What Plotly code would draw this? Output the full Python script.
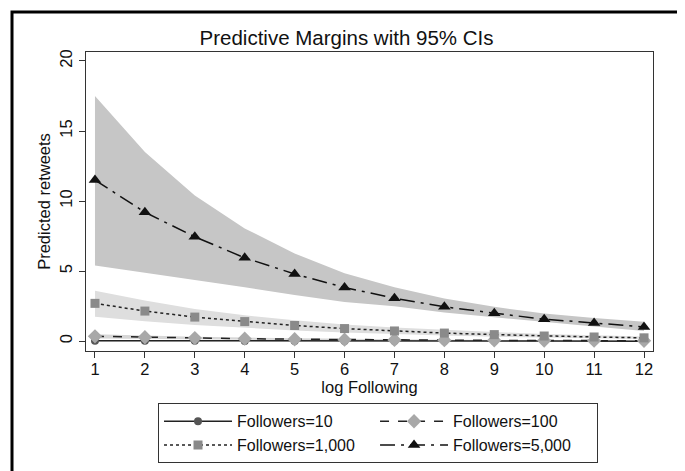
import plotly.graph_objects as go

x = [1, 2, 3, 4, 5, 6, 7, 8, 9, 10, 11, 12]

f10 = [0.04, 0.03, 0.025, 0.02, 0.016, 0.013, 0.01, 0.008, 0.007, 0.006, 0.005, 0.004]
f10_lo = [0.0, 0.0, 0.0, 0.0, 0.0, 0.0, 0.0, 0.0, 0.0, 0.0, 0.0, 0.0]
f10_hi = [0.09, 0.07, 0.055, 0.045, 0.035, 0.03, 0.025, 0.02, 0.016, 0.013, 0.011, 0.009]

f100 = [0.35, 0.28, 0.22, 0.18, 0.14, 0.11, 0.09, 0.07, 0.06, 0.05, 0.04, 0.03]
f100_lo = [0.2, 0.16, 0.13, 0.1, 0.08, 0.065, 0.05, 0.04, 0.033, 0.027, 0.022, 0.018]
f100_hi = [0.5, 0.4, 0.32, 0.26, 0.2, 0.16, 0.13, 0.1, 0.085, 0.07, 0.058, 0.045]

f1000 = [2.7, 2.15, 1.72, 1.4, 1.12, 0.9, 0.73, 0.58, 0.47, 0.37, 0.3, 0.24]
f1000_lo = [1.75, 1.42, 1.15, 0.95, 0.77, 0.62, 0.5, 0.4, 0.32, 0.25, 0.2, 0.15]
f1000_hi = [3.6, 2.9, 2.3, 1.85, 1.5, 1.2, 0.98, 0.8, 0.65, 0.52, 0.42, 0.34]

f5000 = [11.5, 9.2, 7.45, 5.95, 4.8, 3.83, 3.07, 2.45, 2.0, 1.57, 1.3, 1.02]
f5000_lo = [5.4, 4.9, 4.4, 3.85, 3.3, 2.8, 2.5, 2.05, 1.7, 1.35, 1.05, 0.72]
f5000_hi = [17.5, 13.5, 10.4, 8.05, 6.26, 4.85, 3.85, 3.05, 2.45, 1.98, 1.65, 1.38]

y_ticks = [0, 5, 10, 15, 20]

FONT = "Liberation Sans, Arial, sans-serif"

fig = go.Figure()

bands = [
    (f5000_lo, f5000_hi, "#c6c6c6"),
    (f1000_lo, f1000_hi, "#dedede"),
    (f100_lo, f100_hi, "#d6d6d6"),
    (f10_lo, f10_hi, "#bdbdbd"),
]
for lo, hi, col in bands:
    fig.add_trace(go.Scatter(x=x, y=hi, mode="lines", line=dict(width=0, color=col),
                             showlegend=False, hoverinfo="skip"))
    fig.add_trace(go.Scatter(x=x, y=lo, mode="lines", line=dict(width=0, color=col),
                             fill="tonexty", fillcolor=col, showlegend=False, hoverinfo="skip"))

series = [
    ("Followers=10", f10, dict(color="#222222", width=1.5, dash="solid"),
     dict(symbol="circle", size=8, color="#555555")),
    ("Followers=100", f100, dict(color="#222222", width=1.5, dash="dash"),
     dict(symbol="diamond", size=11, color="#a8a8a8")),
    ("Followers=1,000", f1000, dict(color="#222222", width=1.5, dash="dot"),
     dict(symbol="square", size=9, color="#8a8a8a")),
    ("Followers=5,000", f5000, dict(color="#111111", width=1.5, dash="longdashdot"),
     dict(symbol="triangle-up", size=11, color="#111111")),
]
for name, ys, line, marker in series:
    fig.add_trace(go.Scatter(x=x, y=ys, mode="lines+markers", name=name,
                             line=line, marker=marker))

# outer frame
fig.add_shape(type="rect", xref="paper", yref="paper",
              x0=-0.1305, x1=1.0459, y0=-0.42, y1=1.1338,
              line=dict(color="black", width=3), fillcolor="rgba(0,0,0,0)", layer="below")

fig.update_layout(
    width=677, height=463,
    margin=dict(l=78, r=32, t=44, b=120, autoexpand=False),
    paper_bgcolor="white", plot_bgcolor="white",
    font=dict(family=FONT, size=16, color="#111111"),
    title=dict(text="Predictive Margins with 95% CIs", x=0.5, xref="container",
               xanchor="center", y=0.935, yref="container", yanchor="middle",
               font=dict(family=FONT, size=20.5, color="#111111")),
    showlegend=True,
    legend=dict(orientation="h", x=0.127, xanchor="left", xref="paper",
                y=-0.175, yanchor="top", yref="paper",
                bordercolor="#333333", borderwidth=1, bgcolor="white",
                entrywidth=0.381, entrywidthmode="fraction", itemwidth=68,
                font=dict(family=FONT, size=16, color="#111111"),
                traceorder="normal", tracegroupgap=0),
)

fig.update_xaxes(range=[0.82, 12.18], tickmode="array", tickvals=x,
                 ticks="outside", ticklen=6, tickcolor="#333333",
                 ticklabelstandoff=-3,
                 showline=True, linecolor="#333333", linewidth=1, mirror=True,
                 showgrid=False, zeroline=False,
                 title=dict(text="log Following", standoff=1, font=dict(size=16.5)),
                 tickfont=dict(size=16.5))
fig.update_yaxes(range=[-0.7, 20.64], tickmode="array", tickvals=y_ticks,
                 ticks="outside", ticklen=6, tickcolor="#333333", tickangle=-90,
                 showline=True, linecolor="#333333", linewidth=1, mirror=True,
                 showgrid=False, zeroline=False,
                 title=dict(text="Predicted retweets", standoff=2, font=dict(size=16.5)),
                 tickfont=dict(size=16.5))

fig.write_html("out.html")
